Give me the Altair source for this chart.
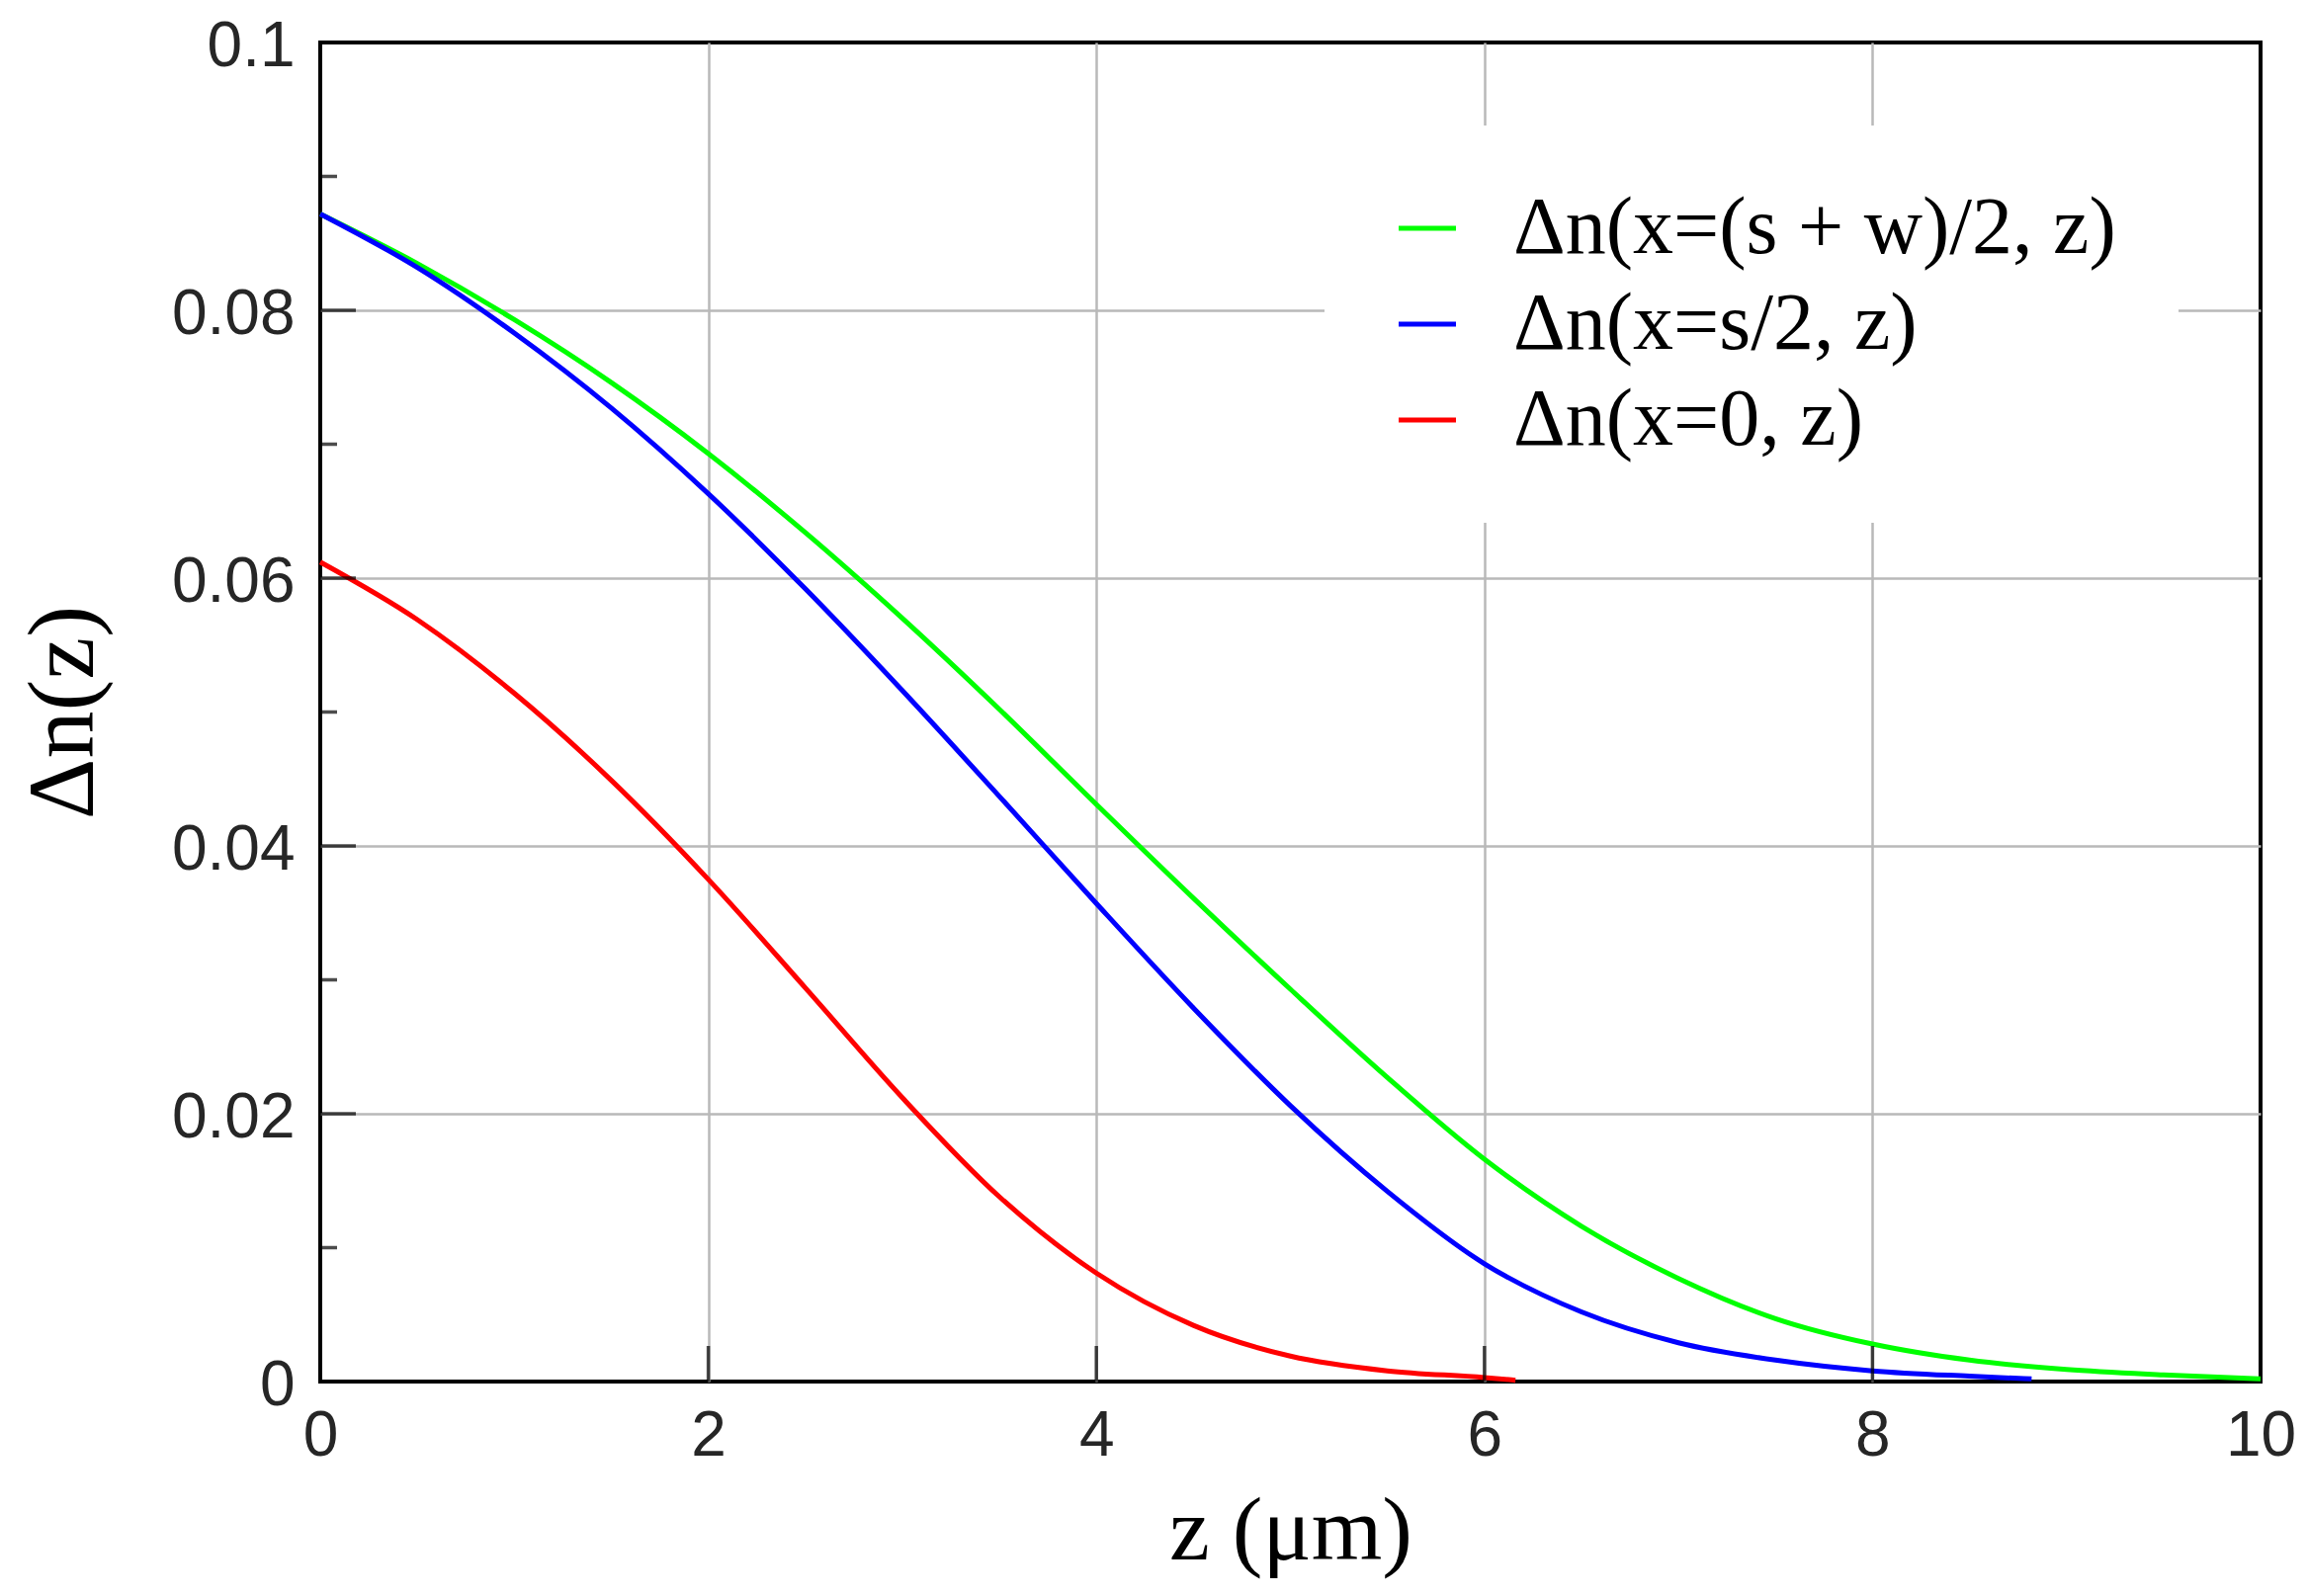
import altair as alt
import pandas as pd

# ---- data ----
series_names = ["Δn(x=(s + w)/2, z)", "Δn(x=s/2, z)", "Δn(x=0, z)"]
series_colors = ["#00ff00", "#0000ff", "#ff0000"]

z_green = [0, 0.5, 1.0, 1.5, 2.0, 2.5, 3.0, 3.5, 4.0, 4.5, 5.0, 5.5, 6.0, 6.5, 7.0, 7.5, 8.0, 8.5, 9.0, 9.5, 10.0]
dn_green = [0.0872, 0.0835, 0.0793, 0.0746, 0.0693, 0.0634, 0.0570, 0.0502, 0.0431, 0.0361, 0.0293, 0.0227, 0.0166,
            0.0116, 0.0077, 0.0047, 0.0028, 0.0016, 0.0009, 0.0005, 0.0002]

z_blue = [0, 0.5, 1.0, 1.5, 2.0, 2.5, 3.0, 3.5, 4.0, 4.5, 5.0, 5.5, 6.0, 6.5, 7.0, 7.5, 8.0, 8.5, 8.82]
dn_blue = [0.0872, 0.0832, 0.0783, 0.0727, 0.0663, 0.0592, 0.0516, 0.0437, 0.0357, 0.0279, 0.0206, 0.0142, 0.0088,
           0.0052, 0.0029, 0.0016, 0.0008, 0.0004, 0.0002]

z_red = [0, 0.5, 1.0, 1.5, 2.0, 2.5, 3.0, 3.5, 4.0, 4.5, 5.0, 5.5, 6.0, 6.16]
dn_red = [0.0612, 0.0569, 0.0514, 0.0449, 0.0375, 0.0294, 0.0212, 0.0138, 0.0081, 0.0042, 0.0019, 0.0008, 0.0003, 0.0001]

x_ticks = [0, 2, 4, 6, 8, 10]
y_ticks = [0, 0.02, 0.04, 0.06, 0.08, 0.1]
y_minor = [0.01, 0.03, 0.05, 0.07, 0.09]
x_inner = [2, 4, 6, 8]
y_inner = [0.02, 0.04, 0.06, 0.08]

rows = []
for name, zs, vs in zip(series_names, [z_green, z_blue, z_red], [dn_green, dn_blue, dn_red]):
    for z, v in zip(zs, vs):
        rows.append({"z": z, "dn": v, "series": name})
df = pd.DataFrame(rows)

W, H = 1963, 1355

xscale = alt.Scale(domain=[0, 10], nice=False, zero=False)
yscale = alt.Scale(domain=[0, 0.1], nice=False, zero=False)

grid_x_op = {"condition": {"test": "datum.value <= 0 || datum.value >= 10", "value": 0}, "value": 1}
grid_y_op = {"condition": {"test": "datum.value <= 0 || datum.value >= 0.1", "value": 0}, "value": 1}

x_axis = alt.Axis(
    values=x_ticks, format="~g", grid=True, gridColor="#b9b9b9", gridWidth=2.5, gridOpacity=grid_x_op,
    ticks=False, tickSize=0, domain=False, labelFlush=False, labelOverlap=False,
    labelFont="Liberation Sans", labelFontSize=64, labelColor="#262626",
    labelBaseline="alphabetic", labelPadding=74,
    title="z (μm)", titleFont="Liberation Serif", titleFontSize=92, titleFontWeight="normal",
    titleColor="black", titleX=W / 2, titleY=179, titleBaseline="alphabetic", titleAlign="center",
)
y_axis = alt.Axis(
    values=y_ticks, format="~g", grid=True, gridColor="#b9b9b9", gridWidth=2.5, gridOpacity=grid_y_op,
    ticks=False, tickSize=0, domain=False, labelOverlap=False,
    labelFont="Liberation Sans", labelFontSize=64, labelColor="#262626", labelPadding=26,
    labelOffset=4,
    title="Δn(z)", titleFont="Liberation Serif", titleFontSize=96, titleFontWeight="normal",
    titleColor="black", titleX=-260, titleY=H / 2, titleBaseline="middle", titleAlign="center",
    titleAngle=270,
)

lines = alt.Chart(df).mark_line(strokeWidth=5, interpolate="monotone").encode(
    x=alt.X("z:Q", scale=xscale, axis=x_axis),
    y=alt.Y("dn:Q", scale=yscale, axis=y_axis),
    color=alt.Color(
        "series:N",
        scale=alt.Scale(domain=series_names, range=series_colors),
        sort=series_names,
        legend=alt.Legend(
            title=None, orient="none", legendX=1016, legendY=84,
            fillColor="white", padding=63, rowPadding=15,
            symbolType="stroke", symbolSize=3364, symbolStrokeWidth=5,
            labelFont="Liberation Serif", labelFontSize=82, labelColor="black",
            labelOffset=46, labelLimit=2000,
        ),
    ),
    order=alt.Order("z:Q"),
)

ymaj = alt.Chart(pd.DataFrame({"dn": y_inner})).mark_tick(
    orient="horizontal", size=72, thickness=3.5, color="black", clip=True
).encode(
    y=alt.Y("dn:Q", scale=yscale),
    x=alt.datum(0),
)
ymin = alt.Chart(pd.DataFrame({"dn": y_minor})).mark_tick(
    orient="horizontal", size=34, thickness=3.5, color="black", clip=True
).encode(
    y=alt.Y("dn:Q", scale=yscale),
    x=alt.datum(0),
)
xmaj = alt.Chart(pd.DataFrame({"z": x_inner})).mark_tick(
    orient="vertical", size=72, thickness=3.5, color="black", clip=True
).encode(
    x=alt.X("z:Q", scale=xscale),
    y=alt.datum(0),
)

chart = alt.layer(lines, ymaj, ymin, xmaj).properties(
    width=W, height=H,
    autosize=alt.AutoSizeParams(type="none"),
    padding={"left": 316, "top": 35, "right": 40, "bottom": 209},
).configure(background="white").configure_view(stroke="black", strokeWidth=4)

chart.save("out.html", embed_options={"renderer": "svg", "actions": False})
